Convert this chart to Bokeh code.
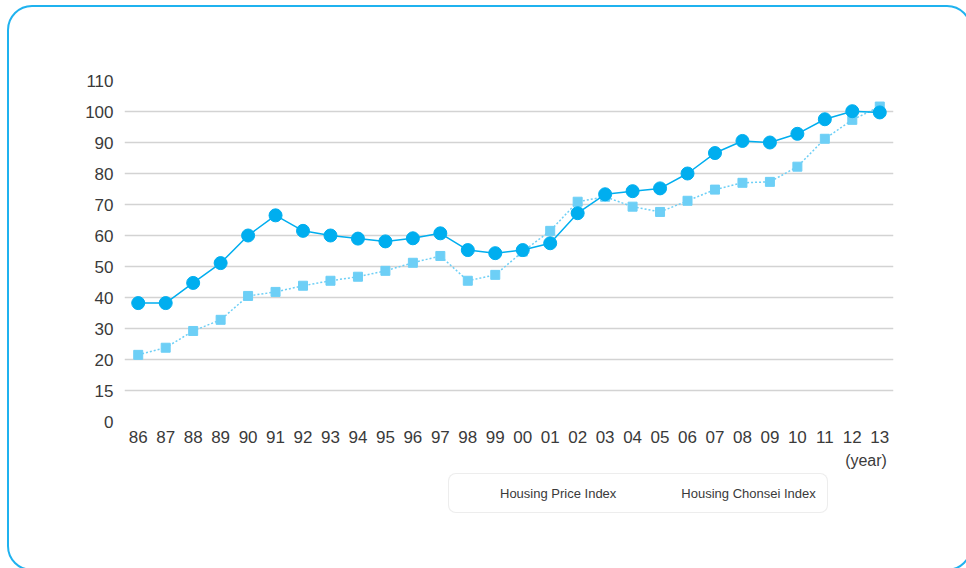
from bokeh.plotting import figure
from bokeh.layouts import column
from bokeh.models import Legend, LegendItem, FixedTicker, ColumnDataSource, Range1d, LinearAxis
from bokeh.embed import file_html
from bokeh.resources import INLINE

years = ["86", "87", "88", "89", "90", "91", "92", "93", "94", "95", "96", "97", "98", "99",
         "00", "01", "02", "03", "04", "05", "06", "07", "08", "09", "10", "11", "12", "13"]
price_index = [38.2, 38.2, 44.7, 51.1, 60.0, 66.5, 61.5, 60.0, 59.0, 58.1, 59.1, 60.7, 55.3, 54.3,
               55.3, 57.5, 67.2, 73.3, 74.3, 75.2, 80.0, 86.6, 90.5, 90.0, 92.8, 97.5, 100.1, 99.7]
chonsei_index = [21.5, 23.8, 29.2, 32.8, 40.5, 41.8, 43.8, 45.4, 46.7, 48.6, 51.2, 53.4, 45.4, 47.3,
                 54.8, 61.5, 70.9, 72.5, 69.3, 67.6, 71.2, 74.8, 77.0, 77.3, 82.2, 91.2, 97.3, 101.6]
y_ticks = [0, 10, 20, 30, 40, 50, 60, 70, 80, 90, 100, 110]
y_tick_labels = ["0", "15", "20", "30", "40", "50", "60", "70", "80", "90", "100", "110"]
series_names = ["Housing Price Index", "Housing Chonsei Index"]
unit_label = "(year)"

FONT = "Liberation Sans"
C_PRICE = "#00aeef"
C_CHONSEI = "#6dcff6"
C_FRAME = "#1fb2ef"
C_TEXT = "#3a3a3a"

x_pos = list(range(len(years)))
src = ColumnDataSource(dict(x=x_pos, year=years, price=price_index, chonsei=chonsei_index))

# ---------------- main chart ----------------
p = figure(width=966, height=473, x_range=Range1d(-0.5, len(years) - 0.5), y_range=(0, 110),
           output_backend="svg", toolbar_location=None,
           min_border_left=124, min_border_right=73, min_border_top=80, min_border_bottom=52)
p.outline_line_color = None
p.background_fill_color = "white"
p.border_fill_color = "white"

# rounded outer frame drawn by a page-level stylesheet (does not touch the plot layout)
try:
    from bokeh.models import GlobalInlineStyleSheet
    frame_css = ("body::after { content: ''; position: fixed; left: 7px; top: 5px; "
                 "right: -6px; bottom: -3px; box-sizing: border-box; "
                 f"border: 2px solid {C_FRAME}; border-radius: 25px; "
                 "pointer-events: none; z-index: 10; }")
    p.stylesheets = [GlobalInlineStyleSheet(css=frame_css)]
except Exception:
    pass

p.xaxis.ticker = FixedTicker(ticks=x_pos)
p.xaxis.major_label_overrides = {i: y for i, y in zip(x_pos, years)}
p.yaxis.ticker = FixedTicker(ticks=y_ticks)
p.yaxis.major_label_overrides = {t: l for t, l in zip(y_ticks, y_tick_labels)}
p.yaxis.major_label_standoff = 5
p.xaxis.major_label_standoff = 3

# second bottom axis carrying only the unit label under the last year
unit_pos = len(years) - 1.5
unit_axis = LinearAxis(ticker=FixedTicker(ticks=[unit_pos]),
                       major_label_overrides={unit_pos: unit_label},
                       major_label_standoff=0)
p.add_layout(unit_axis, "below")

for ax in (p.xaxis[0], p.yaxis[0], unit_axis):
    ax.axis_line_color = None
    ax.major_tick_line_color = None
    ax.minor_tick_line_color = None
    ax.major_label_text_font = FONT
    ax.major_label_text_font_size = "17px"
    ax.major_label_text_color = C_TEXT
unit_axis.major_label_text_font_size = "16px"

p.xgrid.grid_line_color = None
p.ygrid.grid_line_color = "#d3d3d3"
p.ygrid.grid_line_width = 1.5

l1 = p.line("x", "price", source=src, line_color=C_PRICE, line_width=1.5)
c1 = p.scatter("x", "price", source=src, marker="circle", size=13,
               fill_color=C_PRICE, line_color=C_PRICE)
l2 = p.line("x", "chonsei", source=src, line_color=C_CHONSEI, line_width=1.5,
            line_dash="2 2")
c2 = p.scatter("x", "chonsei", source=src, marker="square", size=9,
               fill_color=C_CHONSEI, line_color=C_CHONSEI)
p.renderers = [l2, c2, l1, c1]

# ---------------- legend strip ----------------
lg = figure(width=966, height=95, x_range=Range1d(0, 1), y_range=Range1d(0, 1),
            output_backend="svg", toolbar_location=None,
            min_border_left=0, min_border_right=0, min_border_top=0, min_border_bottom=0)
lg.axis.visible = False
lg.grid.visible = False
lg.outline_line_color = None
lg.background_fill_color = "white"
lg.border_fill_color = "white"

empty = ColumnDataSource(dict(x=[], y=[]))
k1 = lg.line("x", "y", source=empty, line_color=C_PRICE, line_width=1.5)
m1 = lg.scatter("x", "y", source=empty, marker="circle", size=11,
                fill_color=C_PRICE, line_color=C_PRICE)
k2 = lg.line("x", "y", source=empty, line_color=C_CHONSEI, line_width=1.5, line_dash="2 2")
m2 = lg.scatter("x", "y", source=empty, marker="square", size=8,
                fill_color=C_CHONSEI, line_color=C_CHONSEI)

legend = Legend(items=[LegendItem(label=series_names[0], renderers=[k1, m1]),
                       LegendItem(label=series_names[1], renderers=[k2, m2])],
                orientation="horizontal", location=(324, 55),
                label_text_font=FONT, label_text_font_size="13px", label_text_color=C_TEXT,
                glyph_width=30, glyph_height=16, label_standoff=10, spacing=25,
                padding=11, margin=0,
                border_line_color="#dcdcdc", border_line_width=1,
                background_fill_color="white", background_fill_alpha=1)
if "border_radius" in Legend.properties():
    legend.border_radius = 8
lg.add_layout(legend)

open("out.html", "w").write(file_html(column(p, lg), INLINE))
